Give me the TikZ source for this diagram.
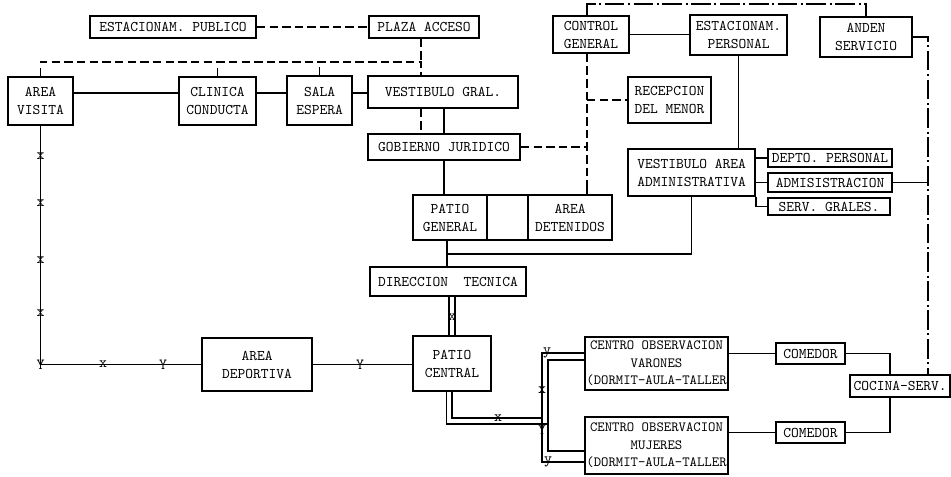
\documentclass[tikz,border=0pt]{standalone}
\begin{document}
\begin{tikzpicture}[x=0.025cm,y=-0.025cm,
  box/.style={draw,line width=1.2pt,align=center,inner sep=1pt,
    font=\fontsize{10.5}{12.8}\selectfont\ttfamily},
  wide/.style={box,font=\fontsize{10}{12.5}\selectfont\ttfamily},
  lnk/.style={line width=1.1pt},
  dsh/.style={lnk,dash pattern=on 6pt off 3pt},
  dd/.style={lnk,dash pattern=on 14pt off 2.5pt on 1.5pt off 2.5pt},
  mk/.style={inner sep=0pt,font=\fontsize{11}{11}\selectfont\ttfamily}]
  \useasboundingbox (0,0) rectangle (951,477);

  % upper zone
  \node[box,minimum width=4.15cm,minimum height=0.55cm] (estpub) at (173,27) {ESTACIONAM. PUBLICO};
  \node[box,minimum width=2.75cm,minimum height=0.55cm] (plaza) at (424,27) {PLAZA ACCESO};
  \node[box,minimum width=1.9cm,minimum height=0.925cm] (control) at (591,34.5) {CONTROL\\GENERAL};
  \node[box,minimum width=2.425cm,minimum height=1cm] (estper) at (738.5,35) {ESTACIONAM.\\PERSONAL};
  \node[box,minimum width=2.3cm,minimum height=1cm] (anden) at (866,37) {ANDEN\\SERVICIO};
  \node[box,minimum width=1.625cm,minimum height=1.2cm] (visita) at (40.5,101) {AREA\\VISITA};
  \node[box,minimum width=1.925cm,minimum height=1.2cm] (clinica) at (217.5,101) {CLINICA\\CONDUCTA};
  \node[box,minimum width=1.625cm,minimum height=1.225cm] (sala) at (319.5,100.5) {SALA\\ESPERA};
  \node[box,minimum width=3.75cm,minimum height=0.8cm] (vestgral) at (443,92) {VESTIBULO GRAL.};
  \node[box,minimum width=2.075cm,minimum height=1.15cm] (recepcion) at (669.5,100) {RECEPCION\\DEL MENOR};
  \node[box,minimum width=3.8cm,minimum height=0.65cm] (gobierno) at (444,147) {GOBIERNO JURIDICO};

  % administration
  \node[box,minimum width=3.175cm,minimum height=1.175cm] (vestadm) at (691.5,172.5) {VESTIBULO AREA\\ADMINISTRATIVA};
  \node[box,minimum width=3.1cm,minimum height=0.45cm] (depto) at (830,158) {DEPTO. PERSONAL};
  \node[box,minimum width=3.1cm,minimum height=0.475cm] (admin) at (830,182.5) {ADMISISTRACION};
  \node[box,minimum width=3.05cm,minimum height=0.425cm] (serv) at (829,206.5) {SERV. GRALES.};

  % middle zone
  \node[box,minimum width=1.85cm,minimum height=1.125cm] (patiogen) at (450,217.5) {PATIO\\GENERAL};
  \node[box,minimum width=1.025cm,minimum height=1.125cm] (blank) at (507.5,217.5) {};
  \node[box,minimum width=2.1cm,minimum height=1.125cm] (detenidos) at (570,217.5) {AREA\\DETENIDOS};
  \node[box,minimum width=3.9cm,minimum height=0.725cm] (direccion) at (448,281.5) {DIRECCION\ \ TECNICA};

  % lower zone
  \node[box,minimum width=2.75cm,minimum height=1.325cm] (deportiva) at (257,364.5) {AREA\\DEPORTIVA};
  \node[box,minimum width=1.95cm,minimum height=1.375cm] (patiocen) at (452,363.5) {PATIO\\CENTRAL};
  \node[wide,minimum width=3.575cm,minimum height=1.325cm] (varones) at (656.5,363.5) {CENTRO OBSERVACION\\VARONES\\(DORMIT-AULA-TALLER};
  \node[wide,minimum width=3.575cm,minimum height=1.425cm] (mujeres) at (656.5,445.5) {CENTRO OBSERVACION\\MUJERES\\(DORMIT-AULA-TALLER};
  \node[box,minimum width=1.725cm,minimum height=0.525cm] (comedor1) at (810.5,353.5) {COMEDOR};
  \node[box,minimum width=1.725cm,minimum height=0.525cm] (comedor2) at (810.5,432.5) {COMEDOR};
  \node[box,minimum width=2.5cm,minimum height=0.55cm] (cocina) at (900,386) {COCINA-SERV.};

  % junctions
  \coordinate (bus) at (421,62);
  \coordinate (row) at (0,93);
  \coordinate (jv) at (587,0);
  \coordinate (jdash) at (587,180);
  \coordinate (ridge) at (700,4);
  \coordinate (jr) at (928,0);
  \coordinate (jk) at (890,0);
  \coordinate (jadm) at (447,254);
  \coordinate (ti) at (542,418);
  \coordinate (to) at (548,424);

  % dashed links
  \draw[dsh] (estpub) -- (plaza);
  \draw[dsh] (visita.north) |- (bus) -- (vestgral.north -| bus);
  \draw[dsh] (plaza.south -| bus) -- (bus);
  \draw[dsh] (clinica.north) -- (clinica.north |- bus);
  \draw[dsh] (sala.north) -- (sala.north |- bus);
  \draw[dsh] (vestgral.south -| bus) -- (gobierno.north -| bus);
  \draw[dsh] (gobierno.east) -- (gobierno.east -| jv);
  \draw[dsh] (control.south -| jv) -- (jdash);
  \draw[lnk] (jdash) -- (detenidos.north -| jv);
  \draw[dsh] (recepcion.west -| jv) -- (recepcion.west);

  % service line
  \draw[dd] (control.north -| jv) |- (ridge) -| (anden.north);
  \draw[dd] (anden.east) -| (cocina.north -| jr);
  \draw[lnk] (admin.east) -- (admin.east -| jr);

  % solid links
  \draw[lnk] (visita.east |- row) -- (clinica.west |- row);
  \draw[lnk] (clinica.east |- row) -- (sala.west |- row);
  \draw[lnk] (sala.east |- row) -- (vestgral.west |- row);
  \draw[lnk] (control.east) -- (control.east -| estper.west);
  \draw[lnk] (estper.south) -- (estper.south |- vestadm.north);
  \draw[lnk] (gobierno.north |- vestgral.south) -- (gobierno.north);
  \draw[lnk] (gobierno.south) -- (gobierno.south |- patiogen.north);
  \draw[lnk] (patiogen.south -| jadm) -- (direccion.north -| jadm);
  \draw[lnk] (jadm) -| (vestadm.south);
  \draw[lnk] (vestadm.east |- depto.west) -- (depto.west);
  \draw[lnk] (vestadm.east |- admin.west) -- (admin.west);
  \draw[lnk] (vestadm.south east) |- (serv.west);
  \draw[lnk] (comedor1.west) -- (comedor1.west -| varones.east);
  \draw[lnk] (comedor2.west) -- (comedor2.west -| mujeres.east);
  \draw[lnk] (comedor1.east) -| (cocina.north -| jk);
  \draw[lnk] (comedor2.east) -| (cocina.south -| jk);
  \draw[lnk,double,double distance=3pt] (direccion.south -| patiocen.north) -- (patiocen.north);

  % routes to the observation centres
  \draw[lnk] (patiocen.south) |- (ti) |- ([yshift=0.26cm]varones.west);
  \draw[lnk] (ti) |- ([yshift=-0.41cm]mujeres.west);
  \draw[lnk] ([xshift=-0.14cm]patiocen.south) |- (to) |- ([yshift=0.09cm]varones.west);
  \draw[lnk] (to) |- ([yshift=-0.14cm]mujeres.west);

  % visitors route
  \draw[lnk] (visita.south) |- (deportiva.west);
  \draw[lnk] (deportiva.east) -- (deportiva.east -| patiocen.west);
  \foreach \y in {156,203,260,313}
    \node[mk] (mv\y) at (40.5,\y) {x};
  \node[mk] (mc) at (40.5,364.5) {Y};
  \node[mk] (mh1) at (103,364.5) {x};
  \node[mk] (mh2) at (163,364.5) {Y};
  \node[mk] (mh3) at (360,364.5) {Y};
  \node[mk] (md) at (452,317) {x};
  \node[mk] (mp1) at (498,418) {x};
  \node[mk] (mp2) at (542,390) {x};
  \node[mk] (mp3) at (547,353) {y};
  \node[mk] (mp4) at (542,430) {Y};
  \node[mk] (mp5) at (548,462) {y};
\end{tikzpicture}
\end{document}
